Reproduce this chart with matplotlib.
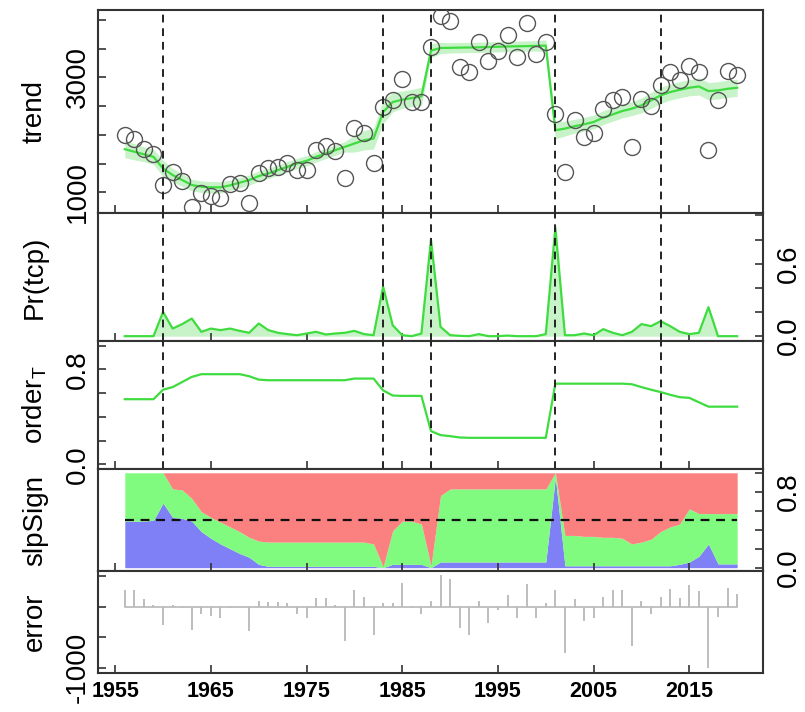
import numpy as np
import matplotlib
matplotlib.use('Agg')
import matplotlib.pyplot as plt
from matplotlib import font_manager as fm

# ---- data ----
years = np.arange(1956, 2021)

obs = [1994, 1936, 1746, 1665, 1121, 1358, 1197, 751, 994, 942,
       908, 1144, 1162, 809, 1341, 1416, 1445, 1503, 1387, 1387,
       1734, 1809, 1722, 1243, 2127, 2035, 1503, 2485, 2601, 2977,
       2572, 2572, 3537, 4075, 3977, 3179, 3092, 3624, 3283, 3468,
       3740, 3353, 3942, 3410, 3613, 2370, 1358, 2266, 1965, 2035,
       2457, 2601, 2659, 1792, 2630, 2497, 2861, 3092, 2948, 3196,
       3104, 1734, 2613, 3121, 3035]

trend = [1751, 1707, 1662, 1618, 1416, 1300, 1214, 1127, 1098, 1087,
         1087, 1121, 1168, 1214, 1283, 1329, 1387, 1445, 1503, 1549,
         1618, 1676, 1734, 1792, 1850, 1907, 1936, 2399, 2572, 2613,
         2642, 2670, 3468, 3514, 3516, 3520, 3522, 3525, 3530, 3535,
         3540, 3543, 3546, 3550, 3555, 2081, 2110, 2150, 2185, 2225,
         2300, 2358, 2416, 2457, 2514, 2601, 2688, 2746, 2786, 2821,
         2844, 2763, 2775, 2803, 2821]

trend_sd = [150, 140, 130, 130, 140, 120, 110, 100, 100, 100,
            100, 90, 90, 90, 90, 90, 90, 90, 90, 90,
            90, 90, 90, 90, 150, 170, 180, 200, 170, 150,
            150, 160, 120, 100, 90, 90, 90, 90, 90, 90,
            90, 90, 90, 90, 100, 150, 130, 120, 120, 120,
            120, 120, 120, 120, 130, 140, 140, 140, 140, 140,
            150, 150, 150, 150, 150]

prob_tcp = [0, 0, 0, 0, 0.20, 0.063, 0.10, 0.146, 0.036, 0.063,
            0.05, 0.063, 0.044, 0.028, 0.105, 0.05, 0.028, 0.017, 0.008, 0.022,
            0.036, 0.014, 0.022, 0.028, 0.044, 0.017, 0.008, 0.41, 0.09, 0.008,
            0.0, 0.022, 0.80, 0.077, 0.008, 0.003, 0.0, 0.017, 0.0, 0.0,
            0.005, 0.0, 0.0, 0.0, 0.017, 0.90, 0.008, 0.008, 0.022, 0.008,
            0.058, 0.028, 0.008, 0.036, 0.10, 0.083, 0.124, 0.083, 0.036, 0.017,
            0.028, 0.24, 0, 0, 0]

order_t = [0.549, 0.549, 0.549, 0.549, 0.629, 0.651, 0.694, 0.737, 0.76, 0.76,
           0.76, 0.76, 0.76, 0.743, 0.714, 0.709, 0.709, 0.709, 0.709, 0.709,
           0.709, 0.709, 0.709, 0.709, 0.723, 0.723, 0.723, 0.623, 0.58, 0.577,
           0.577, 0.577, 0.28, 0.246, 0.237, 0.226, 0.223, 0.223, 0.223, 0.223,
           0.223, 0.223, 0.223, 0.223, 0.223, 0.68, 0.68, 0.68, 0.68, 0.68,
           0.68, 0.68, 0.68, 0.675, 0.651, 0.629, 0.609, 0.586, 0.566, 0.56,
           0.523, 0.486, 0.486, 0.486, 0.486]

slp_neg = [0.49, 0.49, 0.49, 0.50, 0.68, 0.53, 0.52, 0.49, 0.38, 0.31,
           0.25, 0.20, 0.15, 0.11, 0.035, 0.014, 0.014, 0.014, 0.014, 0.014,
           0.014, 0.014, 0.014, 0.014, 0.014, 0.014, 0.014, 0.0, 0.035, 0.035,
           0.035, 0.035, 0.0, 0.06, 0.06, 0.06, 0.06, 0.06, 0.06, 0.06,
           0.06, 0.06, 0.06, 0.06, 0.06, 0.95, 0.02, 0.02, 0.02, 0.02,
           0.02, 0.02, 0.02, 0.02, 0.02, 0.02, 0.02, 0.02, 0.035, 0.06,
           0.12, 0.25, 0.04, 0.04, 0.04]

slp_zero = [0.51, 0.51, 0.51, 0.50, 0.32, 0.30, 0.30, 0.24, 0.21, 0.22,
            0.23, 0.23, 0.23, 0.21, 0.245, 0.256, 0.256, 0.256, 0.256, 0.256,
            0.256, 0.256, 0.256, 0.256, 0.256, 0.256, 0.236, 0.01, 0.355, 0.455,
            0.455, 0.425, 0.02, 0.70, 0.77, 0.77, 0.77, 0.77, 0.77, 0.77,
            0.77, 0.77, 0.77, 0.77, 0.77, 0.05, 0.32, 0.32, 0.31, 0.31,
            0.30, 0.30, 0.29, 0.23, 0.25, 0.28, 0.36, 0.41, 0.425, 0.56,
            0.45, 0.32, 0.53, 0.53, 0.53]

slp_pos = [0, 0, 0, 0, 0, 0.17, 0.18, 0.27, 0.41, 0.47,
           0.52, 0.57, 0.62, 0.68, 0.72, 0.73, 0.73, 0.73, 0.73, 0.73,
           0.73, 0.73, 0.73, 0.73, 0.73, 0.73, 0.75, 0.99, 0.61, 0.51,
           0.51, 0.54, 0.98, 0.24, 0.17, 0.17, 0.17, 0.17, 0.17, 0.17,
           0.17, 0.17, 0.17, 0.17, 0.17, 0, 0.66, 0.66, 0.67, 0.67,
           0.68, 0.68, 0.69, 0.75, 0.73, 0.70, 0.62, 0.57, 0.54, 0.38,
           0.43, 0.43, 0.43, 0.43, 0.43]

error = [270, 270, 124, 27, -298, 27, -16, -379, -124, -146,
         -189, -16, -10, -406, 92, 70, 70, 54, -124, -178,
         135, 146, 27, -557, 270, 162, -460, 54, 54, 395,
         -27, -124, 92, 514, 449, -352, -460, 92, -270, -54,
         189, -189, 379, -178, 54, 270, -757, 124, -233, -189,
         162, 270, 270, -649, 92, -124, 162, 297, 146, 351,
         254, -1011, -162, 308, 216]

changepoints = [1960, 1983, 1988, 2001, 2012]
panel_names = ['trend', 'Pr(tcp)', r'order$_\mathregular{T}$', 'slpSign', 'error']

# ---- fonts ----
names = {f.name for f in fm.fontManager.ttflist}
if 'Liberation Sans Narrow' in names:
    fam = ['Liberation Sans Narrow', 'DejaVu Sans']
    fs, fs_year = 23, 19
else:
    fam = ['Liberation Sans', 'DejaVu Sans']
    fs, fs_year = 20, 15.5
plt.rcParams['font.family'] = fam
plt.rcParams['mathtext.fontset'] = 'custom'
plt.rcParams['mathtext.rm'] = fam[0]
plt.rcParams['mathtext.it'] = fam[0]

green = '#3fdc3f'
band = '#c8f3c8'
edge = '#333333'

W, H = 805, 712
left, right = 98, 763
rows = [(10, 213), (213, 341), (341, 469), (469, 571), (571, 673)]

fig = plt.figure(figsize=(W / 100, H / 100), dpi=100)
axes = []
for t, b in rows:
    ax = fig.add_axes([left / W, 1 - b / H, (right - left) / W, (b - t) / H])
    ax.set_xlim(1953.2, 2022.7)
    ax.set_xticks(range(1955, 2016, 10))
    ax.tick_params(direction='in', length=6, width=1.2, color=edge)
    ax.tick_params(axis='x', labelbottom=False)
    for s in ax.spines.values():
        s.set_color(edge)
        s.set_linewidth(1.5)
    axes.append(ax)

ax_tr, ax_pr, ax_or, ax_sl, ax_er = axes

# trend
lo = np.array(trend) - np.array(trend_sd)
hi = np.array(trend) + np.array(trend_sd)
ax_tr.fill_between(years, lo, hi, color=band, lw=0, zorder=1)
ax_tr.plot(years, trend, color=green, lw=1.6, zorder=3)
ax_tr.plot(years, obs, 'o', ms=11.5, mfc='none', mec='#555555', mew=1.0, zorder=4)
ax_tr.set_ylim(640, 4175)
ax_tr.set_yticks(range(1000, 4001, 500))
ax_tr.set_yticklabels(['1000', '', '', '', '3000', '', ''], rotation=90, va='center', fontsize=fs)

# Pr(tcp)
ax_pr.fill_between(years, 0, prob_tcp, color=band, lw=0)
ax_pr.plot(years, prob_tcp, color=green, lw=1.6)
ax_pr.set_ylim(-0.04, 1.02)
ax_pr.yaxis.tick_right()
ax_pr.set_yticks(np.arange(0, 1.01, 0.2))
ax_pr.set_yticklabels(['0.0', '', '', '0.6', '', ''], rotation=90, va='center', fontsize=fs)

# order
ax_or.plot(years, order_t, color=green, lw=1.6)
ax_or.set_ylim(-0.04, 1.04)
ax_or.set_yticks(np.arange(0, 1.01, 0.2))
ax_or.set_yticklabels(['0.0', '', '', '', '0.8', ''], rotation=90, va='center', fontsize=fs)

for ax in (ax_tr, ax_pr, ax_or):
    for cp in changepoints:
        ax.axvline(cp, color='#222222', lw=1.4, ls=(0, (4, 3)), zorder=5)

# slpSign
neg = np.array(slp_neg)
zero = np.array(slp_zero)
pos = np.array(slp_pos)
ax_sl.fill_between(years, 0, neg, color='#7f7ff6', lw=0)
ax_sl.fill_between(years, neg, neg + zero, color='#80fb80', lw=0)
ax_sl.fill_between(years, neg + zero, neg + zero + pos, color='#fb8080', lw=0)
ax_sl.plot([years[0], years[-1]], [0.5, 0.5], color='#111111', lw=1.6, ls=(0, (4, 3)))
ax_sl.set_ylim(-0.035, 1.04)
ax_sl.yaxis.tick_right()
ax_sl.set_yticks(np.arange(0, 1.01, 0.2))
ax_sl.set_yticklabels(['0.0', '', '', '', '0.8', ''], rotation=90, va='center', fontsize=fs)

# error
ax_er.plot([years[0], years[-1]], [0, 0], color='#b8b8b8', lw=1.2)
ax_er.vlines(years, 0, error, color='#b8b8b8', lw=1.3)
ax_er.set_ylim(-1087, 585)
ax_er.set_yticks([500, 0, -500, -1000])
ax_er.set_yticklabels(['', '', '', '-1000'], rotation=90, va='center', fontsize=fs)
ax_er.tick_params(axis='x', labelbottom=True, pad=6)
for lab in ax_er.get_xticklabels():
    lab.set_fontsize(fs_year)
    lab.set_fontweight('bold')

for ax in (ax_tr, ax_or, ax_er):
    ax.tick_params(axis='y', pad=5)
for ax in (ax_pr, ax_sl):
    ax.tick_params(axis='y', pad=9)

# panel titles on the left
for (t, b), name in zip(rows, panel_names):
    fig.text(35 / W, 1 - (t + b) / 2 / H, name, rotation=90, ha='center', va='center', fontsize=fs)

fig.savefig('out.png', dpi=100, facecolor='white')
